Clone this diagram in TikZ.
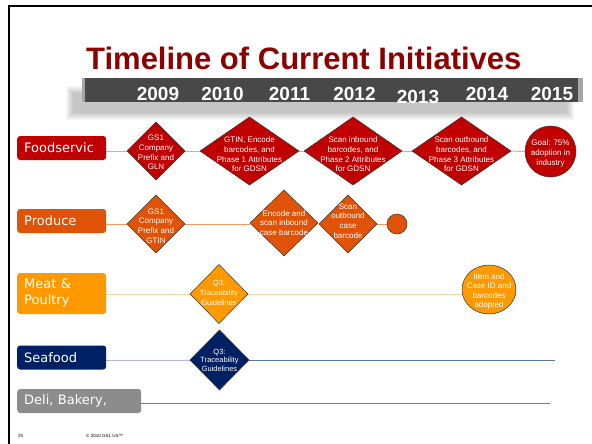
\documentclass[tikz,border=0pt]{standalone}
\usepackage{fontspec}
\setmainfont{Liberation Sans}
\newfontfamily\lanefont{DejaVu Sans}
\usetikzlibrary{shapes.geometric,backgrounds}

\definecolor{titlec}{RGB}{140,0,0}
\definecolor{barc}{RGB}{72,72,72}
\definecolor{redc}{RGB}{192,0,0}
\definecolor{foodln}{RGB}{235,160,160}
\definecolor{orgc}{RGB}{224,82,6}
\definecolor{prodln}{RGB}{245,150,100}
\definecolor{meatc}{RGB}{255,153,0}
\definecolor{meatln}{RGB}{255,214,160}
\definecolor{navyc}{RGB}{0,32,100}
\definecolor{seaA}{RGB}{170,185,220}
\definecolor{seaB}{RGB}{90,115,180}
\definecolor{delic}{RGB}{140,140,140}
\definecolor{delln}{RGB}{125,125,125}

\tikzset{
  lanebox/.style={rectangle, rounded corners=3pt, minimum height=24pt,
    text width=75pt, inner xsep=7pt, inner ysep=0pt, align=left,
    text=white, font=\lanefont\fontsize{13}{16}\selectfont, anchor=west},
  dia/.style={diamond, draw=black!80, line width=0.5pt, inner sep=0pt, outer sep=0pt},
  mile/.style={circle, draw=black!80, line width=0.5pt, inner sep=0pt, outer sep=0pt},
  oval/.style={ellipse, draw=black!80, line width=0.5pt, inner sep=0pt, outer sep=0pt},
  dtxt/.style={text=white, font=\fontsize{8}{9.6}\selectfont, align=center, inner sep=0pt},
  year/.style={text=white, font=\bfseries\fontsize{19}{20}\selectfont, anchor=base, inner sep=0pt},
  foot/.style={font=\fontsize{4.5}{5}\selectfont, anchor=base west, inner sep=0pt},
  link/.style={line width=1pt}
}

\begin{document}
\begin{tikzpicture}[x=1pt,y=-1pt]
\useasboundingbox (0,0) rectangle (592,444);

% slide frame
\draw[line width=2pt] (9,444) -- (9,6) -- (592,6);

% title
\node[font=\bfseries\fontsize{31}{34}\selectfont, text=titlec, anchor=base west, inner sep=0pt]
  (title) at (86,70) {Timeline of Current Initiatives};

% year bar with soft drop shadow
\foreach \k in {0,...,7}
  \fill[black, opacity=0.03] (66+\k,86+\k) rectangle (574-\k,120-\k);
\fill[barc] (83,78) rectangle (582,102);
\fill[black!35] (82,78) rectangle (85,102);
\fill[black!35] (578,78) rectangle (583,102);
\node[year] (y2009) at (158,100) {2009};
\node[year] (y2010) at (222.5,100) {2010};
\node[year] (y2011) at (289.5,100) {2011};
\node[year] (y2012) at (354.5,100) {2012};
\node[year] (y2013) at (418,103) {2013};
\node[year] (y2014) at (487,100) {2014};
\node[year] (y2015) at (552,100) {2015};

% Foodservice lane
\node[lanebox, fill=redc] (food) at (17,148) {Foodservic};
\node[dia, fill=redc, minimum width=58pt, minimum height=58pt] (f1) at (156,151) {};
\node[dia, fill=redc, minimum width=99pt, minimum height=68pt] (f2) at (249.5,151) {};
\node[dia, fill=redc, minimum width=98pt, minimum height=68pt] (f3) at (353,151) {};
\node[dia, fill=redc, minimum width=99pt, minimum height=68pt] (f4) at (461.5,151) {};
\node[mile, fill=redc, minimum size=51pt] (f5) at (550.5,151.5) {};
\node[dtxt] at ([yshift=-1.5pt]f1.center) {GS1\\Company\\Prefix and\\GLN};
\node[dtxt] at ([yshift=-3.5pt]f2.center) {GTIN, Encode\\barcodes, and\\Phase 1 Attributes\\for GDSN};
\node[dtxt] at ([yshift=-3.5pt]f3.center) {Scan inbound\\barcodes, and\\Phase 2 Attributes\\for GDSN};
\node[dtxt] at ([yshift=-3.5pt]f4.center) {Scan outbound\\barcodes, and\\Phase 3 Attributes\\for GDSN};
\node[dtxt] at ([yshift=-2pt]f5.center) {Goal: 75\%\\adoption in\\industry};

% Produce lane
\node[lanebox, fill=orgc] (prod) at (17,221) {Produce};
\node[dia, fill=orgc, minimum width=58pt, minimum height=58pt] (p1) at (156,224) {};
\node[dia, fill=orgc, minimum width=68pt, minimum height=66pt] (p2) at (284,223) {};
\node[dia, fill=orgc, minimum width=58pt, minimum height=58pt] (p3) at (348,224) {};
\node[mile, fill=orgc, minimum size=20pt] (p4) at (397,224) {};
\node[dtxt] at ([yshift=-2pt]p1.center) {GS1\\Company\\Prefix and\\GTIN};
\node[dtxt] at (p2.center) {Encode and\\scan inbound\\case barcode};
\node[dtxt] at ([yshift=3pt]p3.center) {Scan\\outbound\\case\\barcode};

% Meat & Poultry lane
\node[lanebox, fill=meatc, minimum height=41pt] (meat) at (17,293.5) {Meat \&\\Poultry};
\node[dia, fill=meatc, minimum width=58pt, minimum height=59pt] (m1) at (219,294) {};
\node[oval, fill=meatc, minimum width=54pt, minimum height=49pt] (m2) at (489,289.5) {};
\node[dtxt, font=\fontsize{7.5}{10}\selectfont] at ([yshift=1pt]m1.center) {Q3:\\Traceability\\Guidelines};
\node[dtxt] at ([yshift=-2pt]m2.center) {Item and\\Case ID and\\barcodes\\adopted};

% Seafood lane
\node[lanebox, fill=navyc] (sea) at (17,357.5) {Seafood};
\node[dia, fill=navyc, minimum width=59pt, minimum height=60pt] (s1) at (219.5,360) {};
\node[dtxt, font=\fontsize{7.5}{8.5}\selectfont] at (s1.center) {Q3:\\Traceability\\Guidelines};
\coordinate (seaend) at (555,360);

% Deli, Bakery lane
\node[lanebox, fill=delic, text width=110pt] (deli) at (17,401) {Deli, Bakery,};
\coordinate (deliend) at (550,403);

% lane connectors
\begin{scope}[on background layer]
  \draw[link, foodln] (food.east |- f1.west) -- (f1.west);
  \draw[link, foodln] (f1.east) -- (f2.west);
  \draw[link, foodln] (f2.east) -- (f3.west);
  \draw[link, foodln] (f3.east) -- (f4.west);
  \draw[link, foodln] (f4.east) -- (f5.west);
  \draw[link, prodln] (prod.east |- p1.west) -- (p1.west);
  \draw[link, prodln] (p1.east) -- (p2.west |- p1.east);
  \draw[link, prodln] (p3.east) -- (p4.west);
  \draw[link, meatln] (meat.east |- m1.west) -- (m1.west);
  \draw[link, meatln] (m1.east) -- (m1.east -| m2.center);
  \draw[link, seaA] (sea.east |- s1.west) -- (s1.west);
  \draw[link, seaB] (s1.east) -- (seaend);
  \draw[link, delln] (deli.east |- deliend) -- (deliend);
\end{scope}

% footer
\node[foot] (pagenum) at (18,437) {25};
\node[foot] (copy) at (86,437) {© 2010 GS1 US™};
\end{tikzpicture}
\end{document}
